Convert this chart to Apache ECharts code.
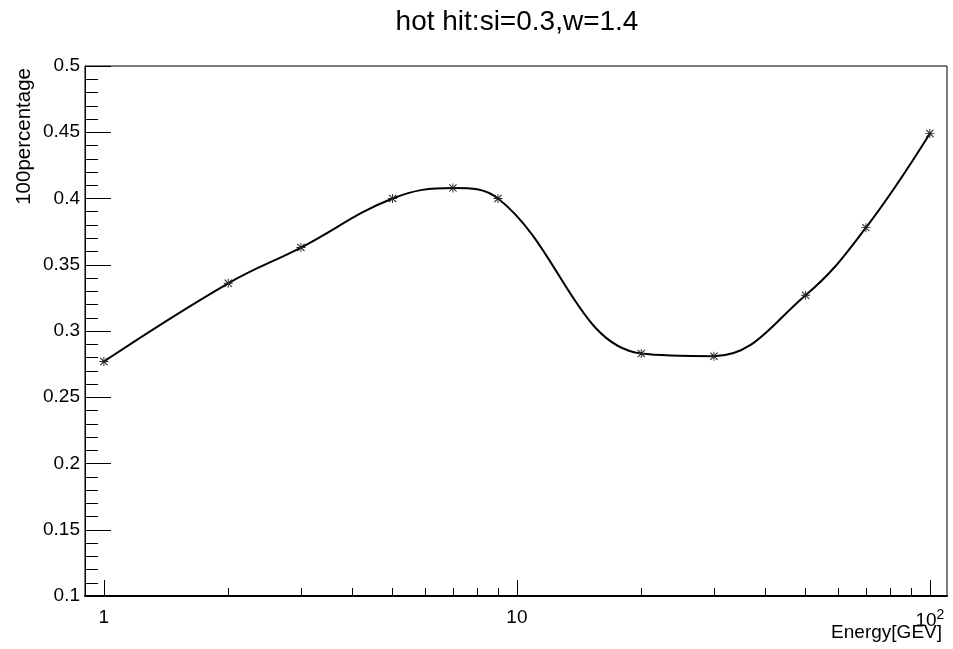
<!DOCTYPE html>
<html>
<head>
<meta charset="utf-8">
<script src="https://cdn.jsdelivr.net/npm/echarts@6/dist/echarts.min.js"></script>
<style>html,body{margin:0;padding:0;background:#fff;}#chart{width:953px;height:649px;}</style>
</head>
<body>
<div id="chart"></div>
<script>
var titleText = 'hot hit:si=0.3,w=1.4';
var xName = 'Energy[GEV]';
var yName = '100percentage';
var energy = [1, 2, 3, 5, 7, 9, 20, 30, 50, 70, 100];
var percentage = [0.277, 0.336, 0.363, 0.400, 0.408, 0.400, 0.283, 0.281, 0.327, 0.378, 0.449];
var xMajorTicks = [1, 10, 100];
var xMinorTicks = [2, 3, 4, 5, 6, 7, 8, 9, 20, 30, 40, 50, 60, 70, 80, 90];
var yTicks = [0.1, 0.15, 0.2, 0.25, 0.3, 0.35, 0.4, 0.45, 0.5];

var FONT = '"Liberation Sans", Arial, sans-serif';
var chart = echarts.init(document.getElementById('chart'), null, {renderer: 'canvas'});
var asterisk = 'path://M0,4.5L10,4.5L10,5.5L0,5.5Z M4.5,0L5.5,0L5.5,10L4.5,10Z M0.6,1.4L1.4,0.6L9.4,8.6L8.6,9.4Z M8.6,0.6L9.4,1.4L1.4,9.4L0.6,8.6Z';

var option = {
  backgroundColor: '#fff',
  animation: false,
  title: {
    text: titleText,
    left: 512,
    textAlign: 'center',
    top: 3,
    textStyle: {fontFamily: FONT, fontSize: 28, fontWeight: 'normal', color: '#000'}
  },
  grid: {left: 85, top: 66, right: 6, bottom: 53, containLabel: false, outerBoundsMode: 'none', show: true, borderColor: '#000', borderWidth: 1, backgroundColor: 'transparent'},
  xAxis: [{
    type: 'log',
    min: 0.9,
    max: 110,
    logBase: 10,
    name: xName,
    nameLocation: 'end',
    nameGap: -5,
    nameMoveOverlap: false,
    nameTextStyle: {fontFamily: FONT, fontSize: 19, color: '#000', align: 'right', verticalAlign: 'top', padding: [27, 0, 0, 0]},
    axisLine: {show: true, onZero: false, lineStyle: {color: '#000', width: 2}},
    axisTick: {show: true, inside: true, length: 16, customValues: xMajorTicks, lineStyle: {color: '#000', width: 1}},
    axisLabel: {
      show: true,
      customValues: xMajorTicks,
      margin: 12,
      fontFamily: FONT, fontSize: 19, color: '#000',
      formatter: function (v) {
        var e = Math.round(Math.log10(v));
        if (e >= 2) return '{b|10}{sup|' + e + '}';
        return '{b|' + String(Math.round(v)) + '}';
      },
      rich: {
        b: {fontFamily: FONT, fontSize: 19, color: '#000'},
        sup: {fontFamily: FONT, fontSize: 14, color: '#000', padding: [0, 0, 12, 0]}
      }
    },
    splitLine: {show: false}
  }, {
    type: 'log',
    min: 0.9,
    max: 110,
    logBase: 10,
    position: 'bottom',
    axisLine: {show: false},
    axisTick: {show: true, inside: true, length: 8, customValues: xMinorTicks, lineStyle: {color: '#000', width: 1}},
    axisLabel: {show: false},
    splitLine: {show: false}
  }],
  yAxis: {
    type: 'value',
    min: 0.1,
    max: 0.5,
    interval: 0.05,
    name: yName,
    nameLocation: 'end',
    nameRotate: 90,
    nameGap: -2,
    nameMoveOverlap: false,
    nameTextStyle: {fontFamily: FONT, fontSize: 20.5, color: '#000', align: 'right', verticalAlign: 'bottom', padding: [0, 0, 50, 0]},
    axisLine: {show: true, lineStyle: {color: '#000', width: 1}},
    axisTick: {show: true, inside: true, length: 26, lineStyle: {color: '#000', width: 1}},
    minorTick: {show: true, splitNumber: 5, length: 13, lineStyle: {color: '#000', width: 1}},
    axisLabel: {
      margin: 5,
      fontFamily: FONT, fontSize: 19, color: '#000',
      customValues: yTicks,
      formatter: function (v) { return String(Math.round(v * 100) / 100); }
    },
    splitLine: {show: false}
  },
  series: [{
    type: 'line',
    xAxisIndex: 0,
    data: energy.map(function (x, i) { return [x, percentage[i]]; }),
    smooth: 0.4,
    symbol: asterisk,
    symbolSize: 9,
    itemStyle: {color: '#222'},
    lineStyle: {color: '#000', width: 2},
    z: 3
  }]
};
chart.setOption(option);
</script>
</body>
</html>
